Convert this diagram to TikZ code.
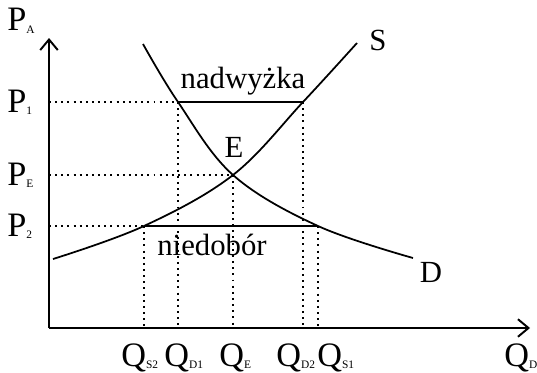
\documentclass[tikz,border=0pt]{standalone}
\usepackage{fontspec}
\setmainfont{Liberation Serif}
\usetikzlibrary{arrows.meta,positioning,calc}

\newcommand{\lbl}[2]{{\fontsize{19.5}{22}\selectfont #1}\raisebox{-1.5pt}{\fontsize{6.5}{7}\selectfont #2}}

\tikzset{
  axis/.style={line width=1.1pt,-{Straight Barb[length=6pt,width=10pt]}},
  curve/.style={line width=1pt},
  gap/.style={line width=1.1pt},
  guide/.style={line width=1.1pt,dash pattern=on 1.1pt off 2.4pt},
  txt/.style={inner sep=0pt,anchor=base}
}

\begin{document}
\begin{tikzpicture}[x=0.02cm,y=-0.02cm,font=\fontsize{17.5}{20}\selectfont]
\useasboundingbox (0,0) rectangle (537,372);
% axes
\coordinate (O) at (49,328);
\coordinate (ytop) at (49,38);
\coordinate (xend) at (530,328);
\draw[axis] (O) -- (ytop);
\draw[axis] (O) -- (xend);
% points on the curves
\coordinate (s2) at (144,226); \coordinate (d1) at (178,102);
\coordinate (E) at (233,175);
\coordinate (d2) at (303,102); \coordinate (s1) at (318,226);
% guides
\draw[guide] (O|-d2) -- (d2);
\draw[guide] (O|-E) -- (E);
\draw[guide] (O|-s1) -- (s1);
\foreach \c in {s2,d1,E,d2,s1}
  \draw[guide] (\c) -- (\c|-O);
% surplus and shortage
\draw[gap] (d1) -- (d2);
\draw[gap] (s2) -- (s1);
% supply and demand
\draw[curve] plot[smooth,tension=0.6] coordinates {(53,259) (s2) (E) (d2) (357,43)};
\draw[curve] plot[smooth,tension=0.6] coordinates {(143,44) (d1) (E) (s1) (413,258)};
% labels
\node[txt] (S) at (378,50) {S};
\node[txt] (D) at (431,282) {D};
\node[txt] (nadw) at (243,88) {nadwyżka};
\node[txt] (nied) at (212,255) {niedobór};
\node[txt] (El) at (234,157) {E};
\node[txt,anchor=base west] (PA) at (7,31) {\lbl{P}{A}};
\node[txt,anchor=base west] (P1) at (7,112) {\lbl{P}{1}};
\node[txt,anchor=base west] (PE) at (7,185) {\lbl{P}{E}};
\node[txt,anchor=base west] (P2) at (7,236) {\lbl{P}{2}};
\foreach \x/\s/\n in {121/S2/QS2,164/D1/QD1,219/E/QE,276/D2/QD2,317/S1/QS1,504/D/QD}
  \node[txt,anchor=base west] (\n) at (\x,366) {\lbl{Q}{\s}};
\end{tikzpicture}
\end{document}
